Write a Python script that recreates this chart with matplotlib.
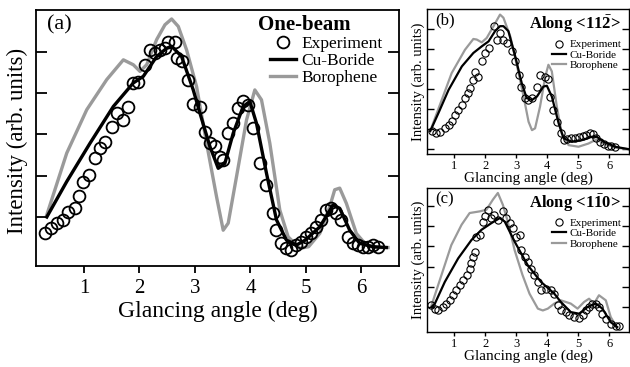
import matplotlib
matplotlib.use("Agg")
import matplotlib.pyplot as plt

plt.rcParams["font.family"] = ["Liberation Serif", "DejaVu Serif"]
plt.rcParams["mathtext.fontset"] = "custom"
plt.rcParams["mathtext.rm"] = "Liberation Serif"
plt.rcParams["mathtext.bf"] = "Liberation Serif:bold"

# ---- (a) one-beam ----
a_exp_x = [0.30, 0.40, 0.51, 0.62, 0.71, 0.84, 0.91, 0.98, 1.09, 1.20, 1.29, 1.38, 1.50, 1.59, 1.70,
           1.79, 1.88, 1.97, 2.10, 2.19, 2.28, 2.37, 2.46, 2.52, 2.64, 2.67, 2.76, 2.88, 2.97, 3.09,
           3.18, 3.27, 3.36, 3.45, 3.51, 3.60, 3.69, 3.78, 3.87, 3.96, 4.05, 4.17, 4.29, 4.41, 4.47,
           4.56, 4.65, 4.74, 4.83, 4.92, 5.01, 5.10, 5.19, 5.28, 5.37, 5.46, 5.55, 5.64, 5.76, 5.85,
           5.94, 6.03, 6.12, 6.21, 6.30]
a_exp_y = [0.61, 0.73, 0.85, 0.93, 1.12, 1.22, 1.51, 1.85, 2.02, 2.43, 2.67, 2.82, 3.18, 3.52, 3.35,
           3.67, 4.25, 4.28, 4.69, 5.05, 4.97, 5.05, 5.09, 5.25, 5.25, 4.85, 4.77, 4.31, 3.74, 3.66,
           3.07, 2.79, 2.71, 2.46, 2.38, 3.03, 3.27, 3.64, 3.80, 3.72, 3.15, 2.30, 1.78, 1.09, 0.68,
           0.36, 0.24, 0.20, 0.32, 0.40, 0.51, 0.60, 0.76, 0.93, 1.17, 1.21, 1.09, 0.93, 0.51, 0.36,
           0.32, 0.28, 0.28, 0.32, 0.28]
a_cu_x = [0.33, 0.69, 1.11, 1.53, 1.89, 2.07, 2.31, 2.49, 2.58, 2.76, 2.97, 3.09, 3.27, 3.42, 3.54,
          3.69, 3.87, 3.99, 4.11, 4.29, 4.47, 4.65, 4.83, 4.99, 5.25, 5.49, 5.61, 5.79, 5.97, 6.21, 6.45]
a_cu_y = [1.00, 1.86, 2.79, 3.68, 4.25, 4.41, 4.89, 5.09, 5.14, 4.89, 4.08, 3.52, 2.71, 2.18, 2.30,
          3.03, 3.68, 3.80, 3.27, 2.06, 0.93, 0.44, 0.32, 0.44, 0.76, 1.29, 1.21, 0.68, 0.36, 0.28, 0.26]
a_bo_x = [0.33, 0.69, 1.05, 1.41, 1.71, 1.89, 2.01, 2.13, 2.31, 2.46, 2.58, 2.70, 2.85, 3.03, 3.21,
          3.39, 3.51, 3.60, 3.75, 3.93, 4.08, 4.20, 4.35, 4.53, 4.68, 4.89, 5.05, 5.25, 5.43, 5.52,
          5.61, 5.73, 5.91, 6.09, 6.27, 6.48]
a_bo_y = [1.05, 2.55, 3.60, 4.33, 4.81, 4.69, 4.53, 4.69, 5.30, 5.66, 5.80, 5.62, 5.05, 4.16, 2.79,
          1.49, 0.68, 0.85, 1.98, 3.35, 4.08, 3.84, 2.79, 1.17, 0.52, 0.24, 0.28, 0.60, 1.25, 1.66,
          1.70, 1.33, 0.60, 0.32, 0.26, 0.26]

# ---- (b) along <11-2> ----
b_exp_x = [0.28, 0.41, 0.55, 0.69, 0.82, 0.92, 1.03, 1.14, 1.25, 1.35, 1.46, 1.52, 1.62, 1.68, 1.78,
           1.89, 2.00, 2.11, 2.27, 2.38, 2.48, 2.59, 2.70, 2.86, 2.97, 3.08, 3.16, 3.27, 3.38, 3.51,
           3.67, 3.77, 3.94, 4.04, 4.10, 4.20, 4.31, 4.44, 4.53, 4.65, 4.78, 4.90, 5.02, 5.14, 5.26,
           5.38, 5.48, 5.58, 5.70, 5.82, 5.95, 6.07, 6.19]
b_exp_y = [0.92, 0.79, 0.87, 1.04, 1.21, 1.42, 1.71, 1.96, 2.21, 2.55, 2.80, 3.05, 3.47, 3.84, 3.63,
           4.39, 4.81, 5.06, 6.15, 5.48, 5.81, 5.48, 5.31, 4.89, 4.39, 3.72, 3.13, 2.55, 2.46, 2.55,
           3.13, 3.72, 3.63, 3.52, 2.63, 1.96, 1.37, 0.79, 0.45, 0.49, 0.54, 0.57, 0.60, 0.64, 0.72,
           0.80, 0.75, 0.55, 0.38, 0.25, 0.18, 0.14, 0.10]
b_cu_x = [0.23, 0.49, 0.82, 1.25, 1.62, 1.89, 2.11, 2.32, 2.48, 2.59, 2.75, 2.97, 3.18, 3.34, 3.51,
          3.67, 3.88, 3.99, 4.15, 4.37, 4.53, 4.80, 5.12, 5.44, 5.60, 5.82, 6.19, 6.62]
b_cu_y = [0.90, 1.79, 2.96, 4.14, 4.81, 5.14, 5.39, 5.90, 6.15, 6.15, 5.90, 4.64, 3.30, 2.55, 2.46,
          2.63, 3.13, 3.17, 2.63, 1.29, 0.54, 0.37, 0.45, 0.62, 0.62, 0.37, 0.12, 0.00]
b_bo_x = [0.28, 0.60, 0.92, 1.35, 1.62, 1.73, 1.89, 2.05, 2.27, 2.48, 2.59, 2.81, 3.02, 3.24, 3.40,
          3.51, 3.61, 3.77, 3.94, 4.04, 4.15, 4.31, 4.47, 4.69, 5.01, 5.33, 5.60, 5.82, 6.19, 6.62]
b_bo_y = [1.12, 2.46, 3.80, 4.97, 5.51, 5.48, 5.34, 5.56, 6.15, 6.73, 6.57, 5.64, 4.22, 2.63, 1.37,
          0.95, 1.04, 2.13, 3.63, 4.22, 3.89, 2.13, 0.79, 0.20, 0.12, 0.28, 0.49, 0.28, 0.08, 0.00]

# ---- (c) along <1-10> ----
c_exp_x = [0.27, 0.38, 0.49, 0.65, 0.75, 0.86, 0.97, 1.07, 1.18, 1.29, 1.40, 1.50, 1.56, 1.61, 1.66,
           1.72, 1.82, 1.93, 1.98, 2.09, 2.20, 2.30, 2.41, 2.57, 2.68, 2.79, 2.89, 3.00, 3.11, 3.16,
           3.27, 3.37, 3.48, 3.59, 3.70, 3.80, 3.96, 4.12, 4.23, 4.34, 4.44, 4.60, 4.71, 4.87, 5.03,
           5.14, 5.25, 5.35, 5.46, 5.57, 5.67, 5.78, 5.89, 6.05, 6.21, 6.32]
c_exp_y = [0.12, -0.08, -0.17, 0.00, 0.17, 0.33, 0.58, 0.83, 1.08, 1.32, 1.57, 1.90, 2.15, 2.48, 2.70,
           3.48, 3.56, 4.22, 4.47, 4.80, 4.39, 4.55, 4.30, 4.72, 4.39, 4.14, 3.89, 3.48, 3.56, 2.81,
           2.48, 2.24, 1.90, 1.57, 1.24, 0.83, 0.91, 0.83, 0.66, 0.08, -0.17, -0.25, -0.41, -0.50, -0.55,
           -0.41, -0.17, 0.00, 0.17, 0.17, 0.00, -0.33, -0.58, -0.83, -0.94, -0.94]
c_cu_x = [0.27, 0.38, 0.70, 1.13, 1.56, 1.88, 2.20, 2.47, 2.63, 2.95, 3.37, 3.80, 4.23, 4.44, 4.76,
          5.03, 5.30, 5.57, 5.78, 6.05, 6.26]
c_cu_y = [0.00, 0.17, 1.24, 2.40, 3.31, 3.81, 4.14, 4.39, 4.22, 3.23, 2.07, 1.24, 0.66, 0.25, -0.25,
          -0.33, 0.00, 0.17, -0.08, -0.75, -0.99]
c_bo_x = [0.27, 0.59, 0.91, 1.24, 1.50, 1.82, 2.04, 2.25, 2.41, 2.57, 2.73, 2.95, 3.20, 3.43, 3.70,
          3.86, 4.02, 4.23, 4.44, 4.76, 4.98, 5.19, 5.35, 5.51, 5.67, 5.89, 6.05, 6.21]
c_bo_y = [0.08, 1.57, 3.06, 4.06, 4.64, 4.72, 4.80, 5.30, 5.63, 5.05, 4.22, 2.81, 1.60, 0.66, -0.08,
          -0.17, -0.08, 0.17, 0.33, 0.17, -0.08, 0.25, 0.41, 0.17, 0.58, 0.33, -0.50, -0.91]

GREY = "#9a9a9a"


def drawPanel(ax, exp, cu, bo, big=True):
    ms, mew, lw = (8.5, 1.3, 2.4) if big else (5.2, 0.8, 1.6)
    ax.plot(bo[0], bo[1], color=GREY, lw=lw, label="Borophene", zorder=2)
    ax.plot(exp[0], exp[1], "o", ms=ms, mfc="none", mec="black", mew=mew,
            label="Experiment", zorder=3)
    ax.plot(cu[0], cu[1], color="black", lw=lw, label="Cu-Boride", zorder=4)
    for s in ax.spines.values():
        s.set_linewidth(1.3 if big else 1.0)


def main():
    fig = plt.figure(figsize=(6.3, 3.67), dpi=100)
    order = [1, 2, 0]

    # (a)
    ax = fig.add_axes([0.0571, 0.275, 0.576, 0.698])
    drawPanel(ax, (a_exp_x, a_exp_y), (a_cu_x, a_cu_y), (a_bo_x, a_bo_y))
    ax.set_xlim(0.135, 6.676); ax.set_ylim(-0.19, 6.02)
    ax.set_xticks([1, 2, 3, 4, 5, 6]); ax.set_yticks([1, 2, 3, 4, 5])
    ax.tick_params(axis="y", direction="in", left=True, right=True, labelleft=False,
                   length=8, width=1.3)
    ax.tick_params(axis="x", direction="out", length=5, width=1.3, labelsize=15, pad=4)
    ax.set_xlabel("Glancing angle (deg)", fontsize=17, labelpad=2)
    ax.set_ylabel("Intensity (arb. units)", fontsize=16.5)
    ax.yaxis.set_label_coords(-0.022, 0.49)
    ax.text(0.03, 0.94, "(a)", transform=ax.transAxes, fontsize=16, va="center")
    ax.text(0.74, 0.94, "One-beam", transform=ax.transAxes, fontsize=15,
            fontweight="bold", ha="center", va="center")
    h, l = ax.get_legend_handles_labels()
    ax.legend([h[i] for i in order], [l[i] for i in order], loc="upper right",
              bbox_to_anchor=(0.955, 0.90), frameon=False, fontsize=12.5,
              handlelength=1.5, handletextpad=0.3, labelspacing=0.05,
              borderpad=0, borderaxespad=0)

    # (b) and (c)
    panels = [
        ([0.678, 0.580, 0.321, 0.395], (b_exp_x, b_exp_y), (b_cu_x, b_cu_y), (b_bo_x, b_bo_y),
         (-0.25, 7.0), range(0, 7), "(b)", r"Along <11$\mathbf{\bar{2}}$>"),
        ([0.678, 0.095, 0.321, 0.393], (c_exp_x, c_exp_y), (c_cu_x, c_cu_y), (c_bo_x, c_bo_y),
         (-1.24, 5.88), range(0, 6), "(c)", r"Along <1$\mathbf{\bar{1}}$0>"),
    ]
    for rect, exp, cu, bo, ylim, yt, tag, title in panels:
        ax = fig.add_axes(rect)
        drawPanel(ax, exp, cu, bo, big=False)
        ax.set_xlim(0.13, 6.65); ax.set_ylim(*ylim)
        ax.set_xticks([1, 2, 3, 4, 5, 6]); ax.set_yticks(list(yt))
        ax.tick_params(axis="y", direction="in", left=True, right=True, labelleft=False,
                       length=5, width=1.0)
        ax.tick_params(axis="x", direction="out", length=3, width=1.0, labelsize=9, pad=1)
        ax.set_xlabel("Glancing angle (deg)", fontsize=11, labelpad=0)
        ax.set_ylabel("Intensity (arb. units)", fontsize=10.5)
        ax.yaxis.set_label_coords(-0.012, 0.5)
        ax.text(0.04, 0.92, tag, transform=ax.transAxes, fontsize=12, va="center")
        ax.text(0.728, 0.895, title, transform=ax.transAxes, fontsize=12,
                fontweight="bold", ha="center", va="center")
        h, l = ax.get_legend_handles_labels()
        ax.legend([h[i] for i in order], [l[i] for i in order], loc="upper right",
                  bbox_to_anchor=(0.96, 0.79), frameon=False, fontsize=8,
                  handlelength=1.3, handletextpad=0.3, labelspacing=0.05,
                  borderpad=0, borderaxespad=0)

    fig.savefig("out.png", dpi=100)


if __name__ == "__main__":
    main()
